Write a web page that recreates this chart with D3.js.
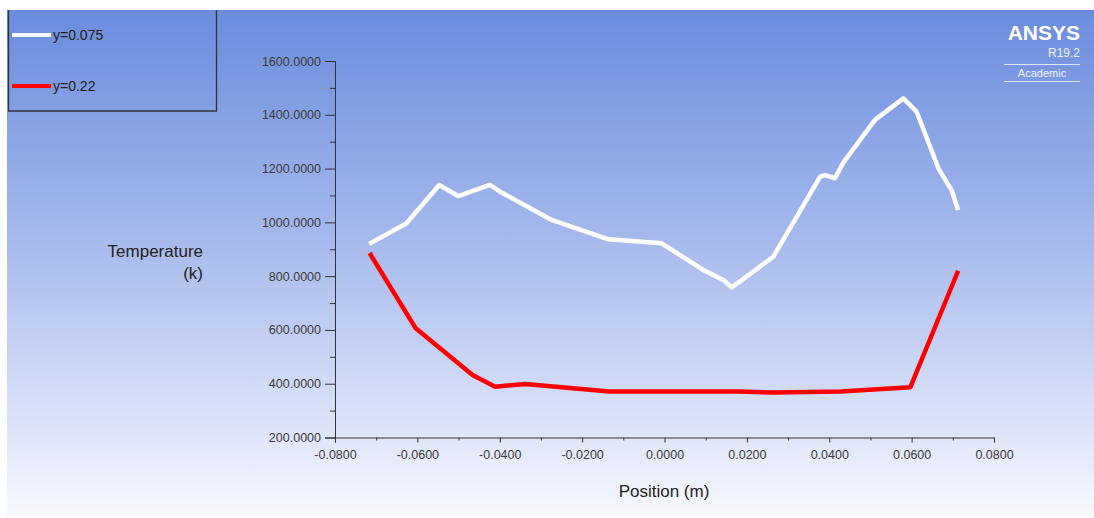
<!DOCTYPE html>
<html>
<head>
<meta charset="utf-8">
<script src="https://cdn.jsdelivr.net/npm/d3@7"></script>
<style>
  body { margin: 0; background: #fff; }
  svg { display: block; font-family: "Liberation Sans", Arial, sans-serif; }
</style>
</head>
<body>
<svg id="chart" width="1094" height="518"></svg>
<script>
// series: position (m) and temperature (k)
var whiteX = [-0.0717, -0.0627, -0.0547, -0.0501, -0.0424, -0.0399, -0.0274, -0.0136, -0.0007, 0.0094, 0.0143, 0.0163, 0.0264, 0.0378, 0.0390, 0.0414, 0.0434, 0.0511, 0.0580, 0.0612, 0.0665, 0.0697, 0.0713];
var whiteY = [920, 996, 1139, 1098, 1139, 1114, 1009, 937, 922, 823, 786, 758, 872, 1170, 1176, 1164, 1222, 1381, 1461, 1412, 1201, 1120, 1046];
var redX = [-0.0716, -0.0604, -0.0466, -0.0411, -0.0338, -0.0134, 0.0183, 0.0265, 0.0428, 0.0597, 0.0713];
var redY = [886, 606, 432, 389, 399, 371, 371, 367, 371, 387, 820];
var seriesNames = ["y=0.075", "y=0.22"];
var seriesColors = ["#ffffff", "#ff0000"];
var xTicks = [-0.08, -0.06, -0.04, -0.02, 0, 0.02, 0.04, 0.06, 0.08];
var yTicks = [200, 400, 600, 800, 1000, 1200, 1400, 1600];

var svg = d3.select("#chart");

// background gradient
var defs = svg.append("defs");
var grad = defs.append("linearGradient")
  .attr("id", "bg")
  .attr("x1", 0).attr("y1", 0).attr("x2", 0).attr("y2", 1);
grad.append("stop").attr("offset", "0%").attr("stop-color", "#6a8cdd");
grad.append("stop").attr("offset", "45%").attr("stop-color", "#a6b9ec");
grad.append("stop").attr("offset", "100%").attr("stop-color", "#f8f9fe");

svg.append("rect")
  .attr("x", 7).attr("y", 10)
  .attr("width", 1087).attr("height", 508)
  .attr("fill", "url(#bg)");

var x = d3.scaleLinear().domain([-0.08, 0.08]).range([335, 994]);
var y = d3.scaleLinear().domain([200, 1600]).range([437.5, 61]);
var fmt = function (d) { return d3.format(".4f")(d).replace("\u2212", "-"); };

// y axis
svg.append("g")
  .attr("transform", "translate(335,0)")
  .call(d3.axisLeft(y).tickValues(yTicks).tickFormat(fmt).tickSize(10).tickPadding(4));
svg.append("g")
  .attr("transform", "translate(335,0)")
  .call(d3.axisLeft(y).tickValues(d3.range(300, 1600, 200)).tickFormat("").tickSize(5))
  .select(".domain").remove();

// x axis
svg.append("g")
  .attr("transform", "translate(0,437.5)")
  .call(d3.axisBottom(x).tickValues(xTicks).tickFormat(fmt).tickSize(5).tickPadding(8));
svg.append("g")
  .attr("transform", "translate(0,437.5)")
  .call(d3.axisBottom(x).tickValues(d3.range(-0.07, 0.08, 0.02)).tickFormat("").tickSize(3))
  .select(".domain").remove();

svg.selectAll(".tick line, .domain").attr("stroke", "#333");
svg.selectAll(".tick text")
  .attr("fill", "#3a3a3a")
  .style("font-size", "12.5px");

// axis titles
svg.append("text")
  .attr("x", 203).attr("y", 257)
  .attr("text-anchor", "end")
  .style("font-size", "17px").attr("fill", "#222")
  .text("Temperature");
svg.append("text")
  .attr("x", 203).attr("y", 279)
  .attr("text-anchor", "end")
  .style("font-size", "17px").attr("fill", "#222")
  .text("(k)");
svg.append("text")
  .attr("x", 664).attr("y", 497)
  .attr("text-anchor", "middle")
  .style("font-size", "17px").attr("fill", "#222")
  .text("Position (m)");

// lines
var line = d3.line().x(function (d) { return x(d[0]); }).y(function (d) { return y(d[1]); });
var series = [d3.zip(whiteX, whiteY), d3.zip(redX, redY)];
svg.selectAll(".series")
  .data(series)
  .enter()
  .append("path")
  .attr("class", "series")
  .attr("d", line)
  .attr("fill", "none")
  .attr("stroke", function (d, i) { return seriesColors[i]; })
  .attr("stroke-width", 4.5)
  .attr("stroke-linejoin", "round");

// legend box, top edge cut off by the frame
svg.append("path")
  .attr("d", "M8.5,10V111H216.5V10")
  .attr("fill", "none")
  .attr("stroke", "#333")
  .attr("stroke-width", 1.3);
var leg = svg.selectAll(".leg")
  .data(seriesNames)
  .enter()
  .append("g")
  .attr("class", "leg")
  .attr("transform", function (d, i) { return "translate(12," + (35 + i * 51) + ")"; });
leg.append("line")
  .attr("x1", 0).attr("x2", 39)
  .attr("stroke", function (d, i) { return seriesColors[i]; })
  .attr("stroke-width", 4);
leg.append("text")
  .attr("x", 41).attr("y", 5)
  .style("font-size", "14px").attr("fill", "#222")
  .text(function (d) { return d; });

// ANSYS mark
svg.append("text")
  .attr("x", 1080).attr("y", 40)
  .attr("text-anchor", "end")
  .style("font-size", "21px").style("font-weight", "bold")
  .attr("fill", "#ffffff")
  .text("ANSYS");
svg.append("text")
  .attr("x", 1080).attr("y", 57)
  .attr("text-anchor", "end")
  .style("font-size", "12px")
  .attr("fill", "#eef2ff")
  .text("R19.2");
svg.append("line")
  .attr("x1", 1004).attr("x2", 1080)
  .attr("y1", 64.5).attr("y2", 64.5)
  .attr("stroke", "#dfe6fa").attr("stroke-width", 1);
svg.append("line")
  .attr("x1", 1004).attr("x2", 1080)
  .attr("y1", 81.5).attr("y2", 81.5)
  .attr("stroke", "#dfe6fa").attr("stroke-width", 1);
svg.append("text")
  .attr("x", 1042).attr("y", 77)
  .attr("text-anchor", "middle")
  .style("font-size", "11px")
  .attr("fill", "#eef2ff")
  .text("Academic");
</script>
</body>
</html>
